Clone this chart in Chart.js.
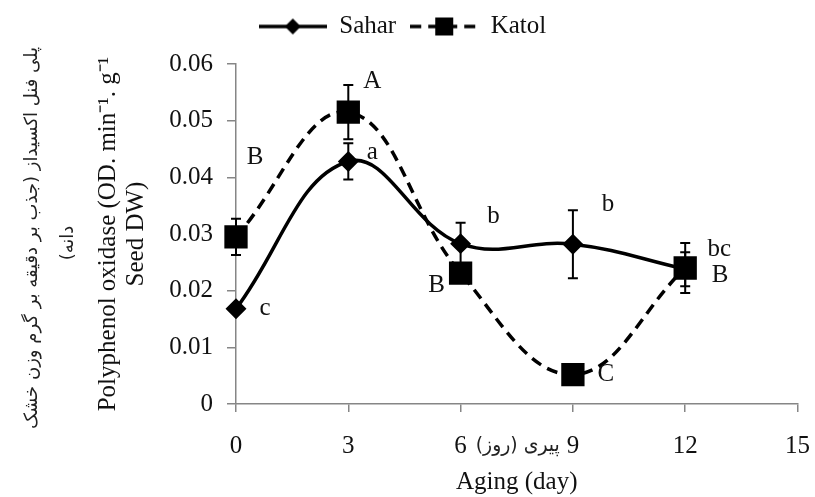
<!DOCTYPE html>
<html>
<head>
<meta charset="utf-8">
<script src="https://cdn.jsdelivr.net/npm/chart.js@4/dist/chart.umd.min.js"></script>
<style>
  html, body { margin: 0; padding: 0; background: #fff; }
  #wrap { width: 815px; height: 497px; }
</style>
</head>
<body>
<div id="wrap"><canvas id="chart" width="815" height="497"></canvas></div>
<script>
// data
const days = [0, 3, 6, 9, 12];
const sahar = [0.0168, 0.0428, 0.0283, 0.0282, 0.0238];
const saharErr = [0.0005, 0.0032, 0.0037, 0.006, 0.003];
const katol = [0.0295, 0.0515, 0.0231, 0.0052, 0.0240];
const katolErr = [0.0032, 0.0048, 0.0015, 0.0008, 0.0044];
const saharLetters = ['c', 'a', 'b', 'b', 'bc'];
const katolLetters = ['B', 'A', 'B', 'C', 'B'];
const yTickLabels = ['0', '0.01', '0.02', '0.03', '0.04', '0.05', '0.06'];

// letter offsets from their point (px)
const saharOffsets = [[29, 0], [24, -9], [33, -27], [35, -40], [34, -20]];
const katolOffsets = [[19, -79], [24, -31], [-24, 12], [33, 0], [35, 7]];

const serif = 'Liberation Serif';
const persianFont = '"DejaVu Sans"';

Chart.defaults.font.family = serif;
Chart.defaults.font.size = 25;
Chart.defaults.color = '#111';

function legendIcon(dashed, style) {
  const c = document.createElement('canvas');
  c.width = 68; c.height = 22;
  const g = c.getContext('2d');
  g.strokeStyle = '#000';
  g.fillStyle = '#000';
  g.lineWidth = 3.5;
  if (dashed) g.setLineDash([11, 7]);
  g.beginPath();
  g.moveTo(0, 11); g.lineTo(68, 11);
  g.stroke();
  g.setLineDash([]);
  if (style === 'rect') {
    g.fillRect(34 - 9, 11 - 9, 18, 18);
  } else {
    g.beginPath();
    g.moveTo(34, 3); g.lineTo(42, 11); g.lineTo(34, 19); g.lineTo(26, 11);
    g.closePath();
    g.fill();
  }
  return c;
}

const extras = {
  id: 'extras',
  beforeLayout(chart) {
    const lg = chart.legend;
    if (lg && !lg._patched) {
      const fit = lg.fit;
      lg.fit = function () { fit.call(this); this.height = 64; };
      lg._patched = true;
    }
  },
  afterDatasetsDraw(chart) {
    const ctx = chart.ctx;
    const xs = chart.scales.x, ys = chart.scales.y;
    ctx.save();
    ctx.strokeStyle = '#000';
    ctx.lineWidth = 2;
    const bars = (vals, errs) => {
      vals.forEach((v, i) => {
        const x = xs.getPixelForValue(days[i]);
        const y1 = ys.getPixelForValue(v + errs[i]);
        const y2 = ys.getPixelForValue(v - errs[i]);
        ctx.beginPath();
        ctx.moveTo(x, y1); ctx.lineTo(x, y2);
        ctx.moveTo(x - 5, y1); ctx.lineTo(x + 5, y1);
        ctx.moveTo(x - 5, y2); ctx.lineTo(x + 5, y2);
        ctx.stroke();
      });
    };
    bars(sahar, saharErr);
    bars(katol, katolErr);

    // significance letters
    ctx.fillStyle = '#111';
    ctx.font = '25px ' + serif;
    ctx.textAlign = 'center';
    ctx.textBaseline = 'middle';
    const letters = (vals, txt, offs) => {
      vals.forEach((v, i) => {
        const x = xs.getPixelForValue(days[i]) + offs[i][0];
        const y = ys.getPixelForValue(v) + offs[i][1];
        ctx.fillText(txt[i], x, y);
      });
    };
    letters(sahar, saharLetters, saharOffsets);
    letters(katol, katolLetters, katolOffsets);
    ctx.restore();
  },
  afterDraw(chart) {
    const ctx = chart.ctx;
    const xs = chart.scales.x;
    ctx.save();
    ctx.fillStyle = '#222';
    ctx.direction = 'rtl';
    ctx.textAlign = 'center';
    ctx.textBaseline = 'middle';
    ctx.font = '18px ' + persianFont;
    // persian y title
    ctx.save();
    ctx.translate(32, 238);
    ctx.rotate(-Math.PI / 2);
    ctx.fillText('پلی فنل اکسیداز (جذب بر دقیقه بر گرم وزن خشک', 0, 0, 383);
    ctx.restore();
    ctx.save();
    ctx.translate(68, 243);
    ctx.rotate(-Math.PI / 2);
    ctx.fillText('دانه)', 0, 0);
    ctx.restore();
    // persian x title, sits between the 6 and 9 tick labels
    ctx.font = '20px ' + persianFont;
    ctx.fillText('پیری (روز)', xs.getPixelForValue(7.5) + 1, 446, 84);
    ctx.restore();
  }
};

const axisGray = '#868686';

new Chart(document.getElementById('chart'), {
  type: 'line',
  data: {
    datasets: [
      {
        label: 'Sahar',
        data: days.map((d, i) => ({ x: d, y: sahar[i] })),
        borderColor: '#000',
        backgroundColor: '#000',
        borderWidth: 3.5,
        tension: 0.4,
        pointStyle: 'rectRot',
        pointRadius: 8,
        pointBackgroundColor: '#000',
        pointBorderColor: '#000',
        clip: false
      },
      {
        label: 'Katol',
        data: days.map((d, i) => ({ x: d, y: katol[i] })),
        borderColor: '#000',
        backgroundColor: '#000',
        borderWidth: 3.5,
        borderDash: [11, 7],
        tension: 0.4,
        pointStyle: 'rect',
        pointRadius: 14,
        pointBackgroundColor: '#000',
        pointBorderColor: '#000',
        clip: false
      }
    ]
  },
  options: {
    responsive: false,
    animation: false,
    devicePixelRatio: 1,
    layout: { padding: { left: 0, right: 10, top: 0, bottom: 0 } },
    plugins: {
      tooltip: { enabled: false },
      legend: {
        position: 'top',
        labels: {
          usePointStyle: true,
          pointStyleWidth: 68,
          padding: 14,
          color: '#111',
          font: { family: serif, size: 25 },
          generateLabels(chart) {
            return [
              { text: 'Sahar', pointStyle: legendIcon(false, 'rectRot'), datasetIndex: 0, fontColor: '#111', lineWidth: 0, hidden: false },
              { text: 'Katol', pointStyle: legendIcon(true, 'rect'), datasetIndex: 1, fontColor: '#111', lineWidth: 0, hidden: false }
            ];
          }
        }
      }
    },
    scales: {
      x: {
        type: 'linear',
        min: 0,
        max: 15,
        afterFit(scale) { scale.height = 93; scale.paddingLeft = 0; scale.paddingRight = 0; },
        ticks: { stepSize: 3, color: '#111', padding: 19, font: { family: serif, size: 25 } },
        grid: { drawOnChartArea: false, drawTicks: true, tickLength: 8, color: axisGray, lineWidth: 1.5 },
        border: { color: axisGray, width: 1.5 },
        title: {
          display: true,
          text: 'Aging (day)',
          color: '#111',
          font: { family: serif, size: 25, lineHeight: 1 },
          padding: { top: 0, bottom: 2 }
        }
      },
      y: {
        min: 0,
        max: 0.06,
        afterFit(scale) { scale.width = 236; },
        ticks: {
          stepSize: 0.01,
          color: '#111',
          padding: 14,
          font: { family: serif, size: 25 },
          callback: (v) => yTickLabels[Math.round(v / 0.01)]
        },
        grid: { drawOnChartArea: false, drawTicks: true, tickLength: 9, color: axisGray, lineWidth: 1.5 },
        border: { color: axisGray, width: 1.5 },
        title: {
          display: true,
          text: ['Polyphenol oxidase (OD. min\u207B\u00B9. g\u207B\u00B9', 'Seed DW)'],
          color: '#111',
          font: { family: serif, size: 25, lineHeight: 1.1 },
          padding: { top: 95, bottom: 0 }
        }
      }
    }
  },
  plugins: [extras]
});
</script>
</body>
</html>
